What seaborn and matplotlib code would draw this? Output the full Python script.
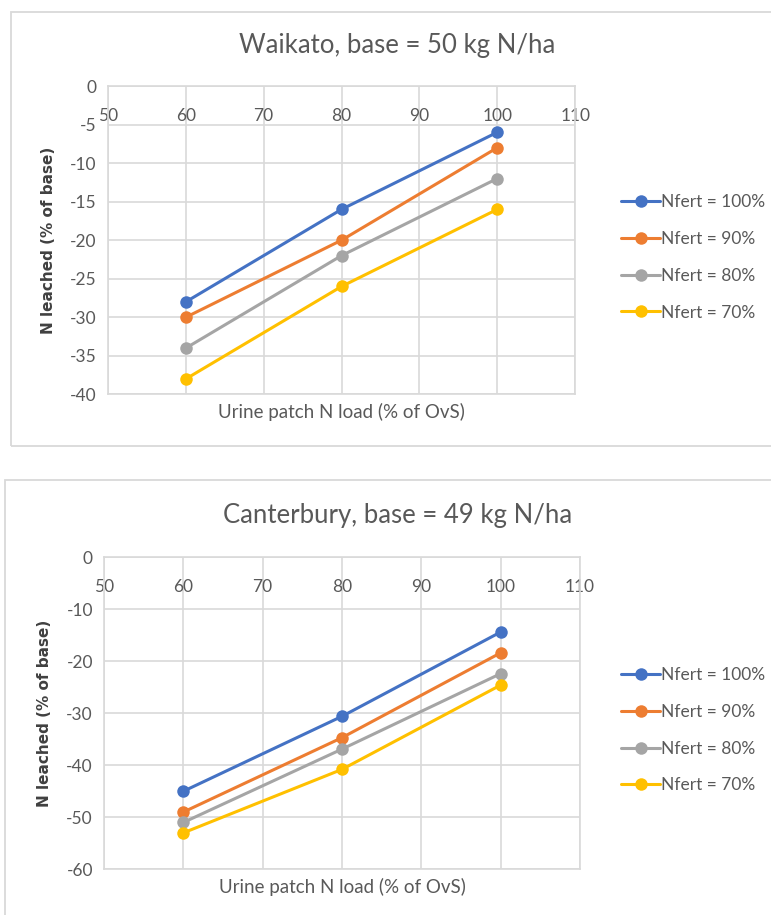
import matplotlib
matplotlib.use("Agg")
import matplotlib.pyplot as plt
import seaborn as sns
import pandas as pd
from matplotlib.patches import Rectangle

# ---- data ----
urine_load = [60, 80, 100]
series_names = ["Nfert = 100%", "Nfert = 90%", "Nfert = 80%", "Nfert = 70%"]

waikato_100 = [-28, -16, -6]
waikato_90 = [-30, -20, -8]
waikato_80 = [-34, -22, -12]
waikato_70 = [-38, -26, -16]

canterbury_100 = [-45, -30.6, -14.4]
canterbury_90 = [-49, -34.7, -18.4]
canterbury_80 = [-51, -36.9, -22.4]
canterbury_70 = [-53, -40.8, -24.6]

waikato_title = "Waikato, base = 50 kg N/ha"
canterbury_title = "Canterbury, base = 49 kg N/ha"
x_label = "Urine patch N load (% of OvS)"
y_label = "N leached (% of base)"
x_ticks = [50, 60, 70, 80, 90, 100, 110]
waikato_yticks = [0, -5, -10, -15, -20, -25, -30, -35, -40]
canterbury_yticks = [0, -10, -20, -30, -40, -50, -60]

colors = ["#4472C4", "#ED7D31", "#A5A5A5", "#FFC000"]

def long_df(series_list):
    rows = []
    for name, vals in zip(series_names, series_list):
        for x, v in zip(urine_load, vals):
            rows.append({"load": x, "leach": v, "series": name})
    return pd.DataFrame(rows)

df_w = long_df([waikato_100, waikato_90, waikato_80, waikato_70])
df_c = long_df([canterbury_100, canterbury_90, canterbury_80, canterbury_70])

sns.set_style("white")
FONT = ["Lato", "DejaVu Sans"]
plt.rcParams["font.family"] = FONT
plt.rcParams["axes.unicode_minus"] = False

TXT = "#595959"
GRID = "#D9D9D9"

fig = plt.figure(figsize=(7.71, 9.15), dpi=100)

# panel boxes
fig.patches.append(Rectangle((0.014, 0.5126), 1.2, 0.4745, transform=fig.transFigure,
                             fill=False, edgecolor=GRID, linewidth=1.3))
fig.patches.append(Rectangle((0.0065, -0.1), 1.2, 0.5754, transform=fig.transFigure,
                             fill=False, edgecolor=GRID, linewidth=1.3))

ax1 = fig.add_axes([0.140, 0.569, 0.606, 0.337])
ax2 = fig.add_axes([0.135, 0.050, 0.617, 0.341])

def style(ax, df, yticks, title, title_y, legend_top):
    sns.lineplot(data=df, x="load", y="leach", hue="series", palette=colors,
                 marker="o", markersize=9, markeredgewidth=0, linewidth=2.2,
                 ax=ax, legend=True)
    ax.set_xlim(50, 110)
    ax.set_ylim(min(yticks), 0)
    ax.set_xticks(x_ticks)
    ax.set_yticks(yticks)
    ax.grid(True, color=GRID, linewidth=1.2)
    ax.set_axisbelow(True)
    for s in ax.spines.values():
        s.set_color(GRID)
        s.set_linewidth(1.2)
    ax.xaxis.tick_top()
    ax.tick_params(axis="x", length=0, labeltop=True, labelbottom=False,
                   pad=-27, labelsize=12.5, labelcolor=TXT)
    ax.tick_params(axis="y", length=0, pad=8, labelsize=12.5, labelcolor=TXT)
    ax.set_xlabel(x_label, fontsize=13.5, color=TXT, labelpad=6)
    ax.xaxis.set_label_position("bottom")
    ax.set_ylabel(y_label, fontsize=11, color="#404040", fontweight="bold",
                  family="DejaVu Sans", labelpad=10)
    fig.text(0.515, title_y, title, ha="center", va="center", fontsize=18.5, color=TXT)
    handles, labels = ax.get_legend_handles_labels()
    ax.legend(handles, labels, loc="upper left", bbox_to_anchor=(0.806, legend_top),
              bbox_transform=fig.transFigure, frameon=False, fontsize=12.5,
              handlelength=2.2, handletextpad=0.1, labelspacing=1.2,
              borderpad=0, borderaxespad=0, labelcolor=TXT)

style(ax1, df_w, waikato_yticks, waikato_title, 1 - 45 / 915, 1 - 194 / 915)
style(ax2, df_c, canterbury_yticks, canterbury_title, 1 - 515 / 915, 1 - 667 / 915)

fig.savefig("out.png", dpi=100)
